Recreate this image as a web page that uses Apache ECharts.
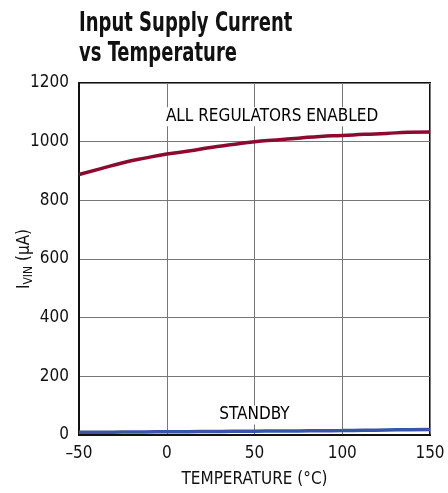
<!DOCTYPE html>
<html><head><meta charset="utf-8">
<script src="https://cdn.jsdelivr.net/npm/echarts@6/dist/echarts.min.js"></script>
<style>html,body{margin:0;padding:0;background:#fff}#c{width:448px;height:493px}</style>
</head><body><div id="c"></div>
<script>
const temps = [-50, -37.5, -25, -12.5, 0, 12.5, 25, 37.5, 50, 62.5, 75, 87.5, 100, 112.5, 125, 137.5, 150];
const allEnabled = [888, 908, 928, 944, 958, 968, 980, 990, 1000, 1006, 1012, 1018, 1021, 1025, 1028, 1032, 1033];
const standby = [9, 9.5, 10, 10.5, 11, 11.5, 12, 12.5, 13, 13.5, 14, 14.5, 15, 16, 17, 18, 19];
const xTicks = [-50, 0, 50, 100, 150];
const yTicks = [0, 200, 400, 600, 800, 1000, 1200];
const annotations = [
  { name: 'ALL REGULATORS ENABLED', value: [60, 1085] },
  { name: 'STANDBY', value: [50, 68] }
];
const FONT = '"DejaVu Sans Condensed", "Liberation Sans Narrow", sans-serif';
const chart = echarts.init(document.getElementById('c'));
chart.setOption({
  animation: false,
  graphic: [{
    type: 'text', x: 79, y: 9, scaleX: 0.77,
    style: { text: 'Input Supply Current\nvs Temperature', fontFamily: FONT, fontWeight: 'bold',
      fontSize: 26, lineHeight: 30, fill: '#111' }
  }],
  grid: { left: 79, right: 18, top: 83, bottom: 58, show: true, borderColor: '#111', borderWidth: 2,
    containLabel: false, outerBoundsMode: 'none' },
  xAxis: {
    type: 'value', min: -50, max: 150, interval: 50,
    name: 'TEMPERATURE (°C)', nameLocation: 'middle', nameGap: 36, nameMoveOverlap: false,
    nameTextStyle: { fontFamily: FONT, fontSize: 17, color: '#111' },
    axisLine: { show: true, onZero: false, lineStyle: { color: '#111', width: 2 } },
    axisTick: { show: false },
    axisLabel: { fontFamily: FONT, fontSize: 17, color: '#111', margin: 10,
      formatter: v => (v < 0 ? '\u2013' + Math.abs(v) : String(v)) },
    splitLine: { show: true, lineStyle: { color: '#777', width: 1 } }
  },
  yAxis: {
    type: 'value', min: 0, max: 1200, interval: 200,
    name: '{i|I}{s|VIN}{i| (µA)}', nameLocation: 'middle', nameGap: 44, nameRotate: 90,
    nameMoveOverlap: false,
    nameTextStyle: { fontFamily: FONT, fontSize: 17, color: '#111',
      rich: { i: { fontFamily: FONT, fontSize: 17, color: '#111' },
              s: { fontFamily: FONT, fontSize: 12, color: '#111', padding: [8, 0, 0, 0] } } },
    axisLine: { show: true, onZero: false, lineStyle: { color: '#111', width: 2 } },
    axisTick: { show: false },
    axisLabel: { fontFamily: FONT, fontSize: 17, color: '#111', margin: 10, formatter: v => String(v) },
    splitLine: { show: true, lineStyle: { color: '#777', width: 1 } }
  },
  series: [
    { type: 'line', data: temps.map((t, i) => [t, allEnabled[i]]), smooth: true, symbol: 'none',
      lineStyle: { color: '#8c0a30', width: 3.5 }, z: 3 },
    { type: 'line', data: temps.map((t, i) => [t, standby[i]]), smooth: true, symbol: 'none',
      lineStyle: { color: '#3a55a8', width: 3.5 }, z: 3 },
    { type: 'scatter', data: annotations, symbolSize: 0, itemStyle: { color: '#fff', opacity: 1 }, z: 4,
      silent: true,
      label: { show: true, position: 'inside', formatter: p => p.name, opacity: 1,
        fontFamily: FONT, fontSize: 17, color: '#000', backgroundColor: '#fff', padding: [1, 2] } }
  ]
});
</script></body></html>
